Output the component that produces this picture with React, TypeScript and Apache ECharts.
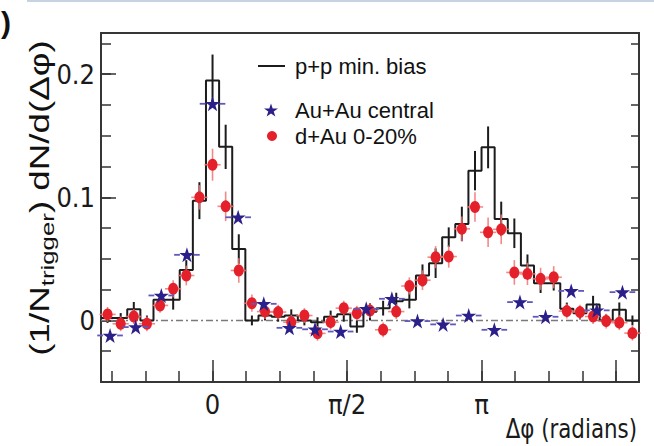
import React, { useEffect, useRef } from 'react';
import * as echarts from 'echarts';

// p+p and d+Au histograms use 41 bins over 2π, Au+Au uses 21; bin k is centred on k·width
const PP_BIN = (2 * Math.PI) / 41;
const AUAU_BIN = (2 * Math.PI) / 21;
const PP_FIRST = -8;
const AUAU_FIRST = -4;

// p+p min. bias, per-trigger yield per bin, with statistical errors
const ppValues = [
  0.002, 0.002, 0.009, 0.0, 0.0168, 0.0168, 0.041, 0.0973, 0.195, 0.141, 0.058,
  0.0, 0.004, 0.003, 0.004, 0.0, -0.0014, 0.003, 0.005, -0.005, 0.007, 0.01,
  0.0155, 0.0168, 0.0365, 0.0465, 0.0676, 0.0784, 0.1217, 0.1406, 0.0825, 0.0708,
  0.0446, 0.0303, 0.0303, 0.0095, 0.0059, 0.013, 0.0, 0.0086, 0.0,
];
const ppErrors = [
  0.004, 0.004, 0.006, 0.004, 0.005, 0.008, 0.008, 0.015, 0.021, 0.018, 0.012,
  0.004, 0.004, 0.004, 0.005, 0.004, 0.004, 0.005, 0.006, 0.005, 0.007, 0.006,
  0.007, 0.007, 0.009, 0.012, 0.008, 0.014, 0.016, 0.017, 0.014, 0.012,
  0.009, 0.008, 0.006, 0.005, 0.005, 0.007, 0.005, 0.006, 0.004,
];

// d+Au 0-20%
const dAuValues = [
  0.0049, -0.0027, 0.0032, -0.0027, 0.0122, 0.0257, 0.0365, 0.1, 0.1265, 0.0927, 0.0406,
  0.014, 0.0072, 0.0068, -0.0014, 0.004, -0.0105, -0.0014, 0.01, 0.0059, 0.008, -0.0076,
  0.0072, 0.028, 0.0327, 0.0514, 0.0519, 0.0744, 0.0922, 0.0716, 0.074, 0.039,
  0.0378, 0.0338, 0.0351, 0.0076, 0.0068, 0.0032, -0.0005, -0.0018, -0.0103,
];
const dAuErrors = [
  0.006, 0.006, 0.006, 0.006, 0.006, 0.007, 0.008, 0.01, 0.013, 0.012, 0.01,
  0.007, 0.006, 0.006, 0.006, 0.006, 0.006, 0.006, 0.006, 0.006, 0.006, 0.006,
  0.006, 0.007, 0.008, 0.009, 0.009, 0.01, 0.012, 0.012, 0.012, 0.01,
  0.009, 0.009, 0.009, 0.006, 0.006, 0.006, 0.006, 0.006, 0.006,
];
const dAuXError = 0.095;

// Au+Au central
const auAuValues = [
  -0.0122, -0.0054, 0.0203, 0.0533, 0.176, 0.0838, 0.0135, -0.006, -0.0072, -0.009,
  0.0095, 0.0176, -0.0005, -0.0032, 0.004, -0.0076, 0.0149, 0.003, 0.024, 0.0082, 0.023,
];

// axes
const X_MIN = (PP_FIRST - 0.5) * PP_BIN;
const X_MAX = (PP_FIRST + ppValues.length - 0.5) * PP_BIN;
const Y_MIN = -0.05;
const Y_MAX = 0.2335;
const xMajorValues = [0, Math.PI / 2, Math.PI, (3 * Math.PI) / 2];
const xLabelValues = [0, Math.PI / 2, Math.PI];
const xLabelTexts = ['0', 'π/2', 'π'];
const yLabelValues = [0, 0.1, 0.2];
const yLabelTexts = ['0', '0.1', '0.2'];
const Y_MINOR_STEP = 0.025;

const SANS = '"Liberation Sans", Arial, Helvetica, sans-serif';
const NARROW =
  '"Liberation Sans Narrow", "Arial Narrow", "DejaVu Sans Condensed", "Liberation Sans", sans-serif';
const STAR =
  'path://M50,0 L61.8,35.1 L98.9,35.1 L68.9,56.9 L80.3,92.1 L50,70.4 L19.7,92.1 L31.1,56.9 L1.1,35.1 L38.2,35.1 Z';

const STAR_COLOR = '#2b1f8a';
const STAR_ERR_COLOR = '#6058bd';
const DOT_COLOR = '#e4202a';
const DOT_ERR_COLOR = '#f07474';
const PP_COLOR = '#1c1c1c';

function nearestLabel(v: number, values: number[], texts: string[]) {
  let best = 0;
  for (let i = 1; i < values.length; i++) {
    if (Math.abs(values[i] - v) < Math.abs(values[best] - v)) best = i;
  }
  return texts[best];
}

function buildOption() {
  // step outline of the p+p histogram, from each bin's edges
  const ppStep: number[][] = [];
  ppValues.forEach((v, i) => {
    const c = (PP_FIRST + i) * PP_BIN;
    ppStep.push([c - PP_BIN / 2, v], [c + PP_BIN / 2, v]);
  });
  const ppErr = ppValues.map((v, i) => [(PP_FIRST + i) * PP_BIN, v, ppErrors[i]]);
  const dAuPts = dAuValues.map((v, i) => [(PP_FIRST + i) * PP_BIN, v]);
  const dAuErr = dAuValues.map((v, i) => [(PP_FIRST + i) * PP_BIN, v, dAuErrors[i], dAuXError]);
  const auAuPts = auAuValues.map((v, j) => [(AUAU_FIRST + j) * AUAU_BIN, v]);
  const auAuErr = auAuValues.map((v, j) => [(AUAU_FIRST + j) * AUAU_BIN, v, AUAU_BIN / 2]);

  const xMinor: number[] = [];
  for (let k = Math.ceil(X_MIN / (Math.PI / 8)); k * (Math.PI / 8) <= X_MAX; k++) {
    xMinor.push(k * (Math.PI / 8));
  }
  const yMinor: number[] = [];
  for (let k = Math.ceil(Y_MIN / Y_MINOR_STEP) + 1; k * Y_MINOR_STEP < Y_MAX; k++) {
    yMinor.push(+(k * Y_MINOR_STEP).toFixed(4));
  }

  const tickColor = '#333';
  const baseX = {
    type: 'value' as const,
    min: X_MIN,
    max: X_MAX,
    position: 'bottom' as const,
    axisLine: { show: false, onZero: false },
    splitLine: { show: false },
  };
  const baseY = {
    type: 'value' as const,
    min: Y_MIN,
    max: Y_MAX,
    axisLine: { show: false, onZero: false },
    splitLine: { show: false },
  };

  return {
    animation: false,
    backgroundColor: '#ffffff',
    grid: {
      left: 101,
      top: 33,
      width: 538,
      height: 349,
      show: true,
      borderColor: '#363636',
      borderWidth: 2,
      backgroundColor: 'transparent',
    },
    xAxis: [
      {
        ...baseX,
        axisTick: {
          show: true,
          inside: true,
          length: 11,
          customValues: xMinor,
          lineStyle: { color: tickColor, width: 1.5 },
        },
        axisLabel: { show: false },
      },
      {
        ...baseX,
        axisTick: {
          show: true,
          inside: true,
          length: 22,
          customValues: xMajorValues,
          lineStyle: { color: tickColor, width: 1.5 },
        },
        axisLabel: {
          show: true,
          customValues: xLabelValues,
          margin: 9,
          fontSize: 27,
          fontFamily: NARROW,
          color: '#1a1a1a',
          formatter: (v: number) => nearestLabel(v, xLabelValues, xLabelTexts),
        },
      },
    ],
    yAxis: [
      {
        ...baseY,
        position: 'left',
        axisTick: {
          show: true,
          inside: true,
          length: 10,
          customValues: yMinor,
          lineStyle: { color: tickColor, width: 1.5 },
        },
        axisLabel: { show: false },
      },
      {
        ...baseY,
        position: 'left',
        axisTick: {
          show: true,
          inside: true,
          length: 15,
          customValues: yLabelValues,
          lineStyle: { color: tickColor, width: 1.5 },
        },
        axisLabel: {
          show: true,
          customValues: yLabelValues,
          margin: 6,
          fontSize: 27,
          fontFamily: NARROW,
          color: '#1a1a1a',
          formatter: (v: number) => nearestLabel(v, yLabelValues, yLabelTexts),
        },
      },
      {
        ...baseY,
        position: 'right',
        axisTick: {
          show: true,
          inside: true,
          length: 8,
          customValues: yMinor,
          lineStyle: { color: tickColor, width: 1.5 },
        },
        axisLabel: { show: false },
      },
    ],
    legend: [
      {
        data: [{ name: 'p+p min. bias', icon: 'rect' }],
        left: 258,
        top: 54,
        padding: 0,
        itemWidth: 27,
        itemHeight: 2,
        selectedMode: false,
        textStyle: { fontSize: 22, fontFamily: SANS, color: '#111', lineHeight: 24, padding: [0, 0, 0, 5] },
      },
      {
        data: [{ name: 'Au+Au central', icon: STAR }],
        left: 264,
        top: 98,
        padding: 0,
        itemWidth: 14,
        itemHeight: 14,
        selectedMode: false,
        textStyle: { fontSize: 22, fontFamily: SANS, color: '#111', lineHeight: 24, padding: [0, 0, 0, 12] },
      },
      {
        data: [{ name: 'd+Au 0-20%', icon: 'circle' }],
        left: 267,
        top: 124,
        padding: 0,
        itemWidth: 10,
        itemHeight: 10,
        selectedMode: false,
        textStyle: { fontSize: 22, fontFamily: SANS, color: '#111', lineHeight: 24, padding: [0, 0, 0, 13] },
      },
    ],
    graphic: [
      {
        type: 'line',
        shape: { x1: 27, y1: 1, x2: 654, y2: 1 },
        style: { stroke: '#c6d3e2', lineWidth: 2 },
      },
      {
        type: 'text',
        x: 1,
        y: 22,
        style: { text: ')', fontSize: 30, fontWeight: 'bold', fontFamily: SANS, fill: '#111', verticalAlign: 'middle' },
      },
      {
        type: 'text',
        x: 40,
        y: 198,
        rotation: Math.PI / 2,
        scaleX: 1.36,
        style: {
          text: '{m|(1/N}{s|trigger}{m|) dN/d(Δφ)}',
          align: 'center',
          verticalAlign: 'middle',
          fill: '#111',
          rich: {
            m: { fontSize: 27, fontFamily: SANS, lineHeight: 34, verticalAlign: 'middle', fill: '#111' },
            s: { fontSize: 19, fontFamily: SANS, lineHeight: 19, verticalAlign: 'bottom', fill: '#111' },
          },
        },
      },
      {
        type: 'text',
        x: 637,
        y: 428,
        scaleX: 0.88,
        style: {
          text: 'Δφ (radians)',
          align: 'right',
          verticalAlign: 'middle',
          fontSize: 27,
          fontFamily: NARROW,
          fill: '#1a1a1a',
        },
      },
    ],
    series: [
      {
        type: 'line',
        name: 'zero',
        data: [
          [X_MIN, 0],
          [X_MAX, 0],
        ],
        symbol: 'none',
        silent: true,
        z: 1,
        lineStyle: { color: '#7a7a7a', width: 1.5, type: [7, 3, 2, 3] },
      },
      {
        type: 'line',
        name: 'p+p min. bias',
        data: ppStep,
        symbol: 'none',
        z: 2,
        itemStyle: { color: PP_COLOR },
        lineStyle: { color: PP_COLOR, width: 2 },
      },
      {
        type: 'custom',
        name: 'p+p errors',
        data: ppErr,
        z: 2,
        silent: true,
        renderItem: (_p: any, api: any) => {
          const x = api.value(0);
          const y = api.value(1);
          const e = api.value(2);
          const a = api.coord([x, y + e]);
          const b = api.coord([x, y - e]);
          return {
            type: 'line',
            shape: { x1: a[0], y1: a[1], x2: b[0], y2: b[1] },
            style: { stroke: PP_COLOR, lineWidth: 2 },
          };
        },
      },
      {
        type: 'custom',
        name: 'd+Au errors',
        data: dAuErr,
        z: 3,
        silent: true,
        renderItem: (_p: any, api: any) => {
          const x = api.value(0);
          const y = api.value(1);
          const e = api.value(2);
          const xe = api.value(3);
          const t = api.coord([x, y + e]);
          const b = api.coord([x, y - e]);
          const l = api.coord([x - xe, y]);
          const r = api.coord([x + xe, y]);
          const style = { stroke: DOT_ERR_COLOR, lineWidth: 1.6, opacity: 0.85 };
          return {
            type: 'group',
            children: [
              { type: 'line', shape: { x1: t[0], y1: t[1], x2: b[0], y2: b[1] }, style },
              { type: 'line', shape: { x1: l[0], y1: l[1], x2: r[0], y2: r[1] }, style },
            ],
          };
        },
      },
      {
        type: 'scatter',
        name: 'd+Au 0-20%',
        data: dAuPts,
        symbol: 'circle',
        symbolSize: [10, 12],
        z: 4,
        itemStyle: { color: DOT_COLOR, opacity: 1 },
      },
      {
        type: 'custom',
        name: 'Au+Au errors',
        data: auAuErr,
        z: 5,
        silent: true,
        renderItem: (_p: any, api: any) => {
          const x = api.value(0);
          const y = api.value(1);
          const xe = api.value(2);
          const l = api.coord([x - xe, y]);
          const r = api.coord([x + xe, y]);
          const c = api.coord([x, y]);
          const gap = 7;
          const style = { stroke: STAR_ERR_COLOR, lineWidth: 1.8 };
          return {
            type: 'group',
            children: [
              { type: 'line', shape: { x1: l[0], y1: l[1], x2: c[0] - gap, y2: c[1] }, style },
              { type: 'line', shape: { x1: c[0] + gap, y1: c[1], x2: r[0], y2: r[1] }, style },
            ],
          };
        },
      },
      {
        type: 'scatter',
        name: 'Au+Au central',
        data: auAuPts,
        symbol: STAR,
        symbolSize: 15,
        z: 6,
        itemStyle: { color: STAR_COLOR, opacity: 1 },
      },
    ],
  };
}

export default function App() {
  const ref = useRef<HTMLDivElement>(null);
  useEffect(() => {
    if (!ref.current) return;
    const chart = echarts.init(ref.current, undefined, { renderer: 'svg' });
    chart.setOption(buildOption() as any);
    return () => chart.dispose();
  }, []);
  return (
    <div
      ref={ref}
      style={{ position: 'fixed', left: 0, top: 0, width: 654, height: 446, background: '#fff' }}
    />
  );
}
